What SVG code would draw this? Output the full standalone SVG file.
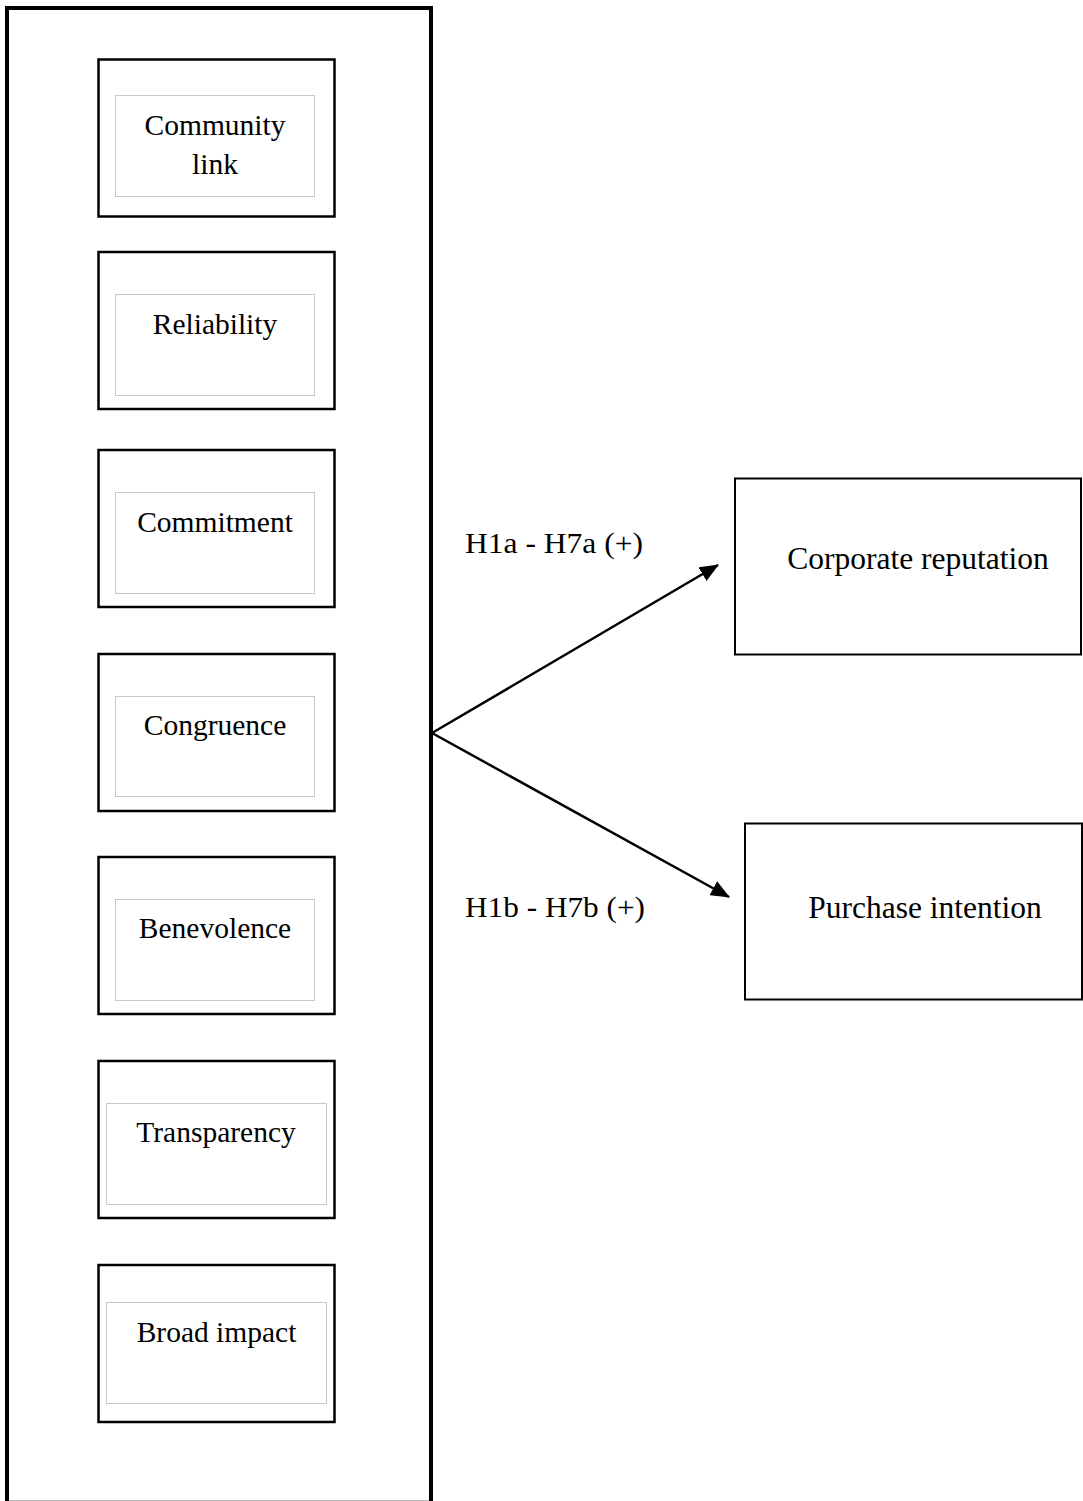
<svg xmlns="http://www.w3.org/2000/svg" width="1083" height="1501" viewBox="0 0 1083 1501">
<style>
.frame{fill:none;stroke:#000;stroke-width:4}
.outer{fill:#fff;stroke:#000;stroke-width:2.5}
.inner{fill:#fff;stroke:#c8c8c8;stroke-width:1}
.box{fill:#fff;stroke:#000;stroke-width:2}
.t{font-family:"Liberation Serif","Times New Roman",serif;font-size:29.5px;fill:#000;text-anchor:middle}
.tr{font-family:"Liberation Serif","Times New Roman",serif;font-size:31.5px;fill:#000;text-anchor:middle}
.lbl{font-family:"Liberation Serif","Times New Roman",serif;font-size:29px;fill:#000}
.conn{stroke:#000;stroke-width:2.5;fill:none}
</style>
<defs>
<marker id="ah" markerWidth="19" markerHeight="16" refX="18" refY="8" orient="auto" markerUnits="userSpaceOnUse">
<path d="M0,0 L19,8 L0,16 Z" fill="#000"/>
</marker>
</defs>
<rect width="1083" height="1501" fill="#fff"/>
<g id="frame">
<rect class="frame" x="7" y="8" width="424" height="1500"/>
<line x1="9" y1="1500.5" x2="429" y2="1500.5" stroke="#bbb" stroke-width="1"/>
</g>
<g id="n-community">
<rect class="outer" x="98.5" y="59.5" width="236" height="157"/>
<rect class="inner" x="115.5" y="95.5" width="199" height="101"/>
<text class="t" x="215" y="135">Community</text>
<text class="t" x="215" y="174">link</text>
</g>
<g id="n-reliability">
<rect class="outer" x="98.5" y="252" width="236" height="157"/>
<rect class="inner" x="115.5" y="294.5" width="199" height="101"/>
<text class="t" x="215" y="334">Reliability</text>
</g>
<g id="n-commitment">
<rect class="outer" x="98.5" y="450" width="236" height="157"/>
<rect class="inner" x="115.5" y="492.5" width="199" height="101"/>
<text class="t" x="215" y="532">Commitment</text>
</g>
<g id="n-congruence">
<rect class="outer" x="98.5" y="654" width="236" height="157"/>
<rect class="inner" x="115.5" y="696.5" width="199" height="100"/>
<text class="t" x="215" y="735">Congruence</text>
</g>
<g id="n-benevolence">
<rect class="outer" x="98.5" y="857" width="236" height="157"/>
<rect class="inner" x="115.5" y="899.5" width="199" height="101"/>
<text class="t" x="215" y="938">Benevolence</text>
</g>
<g id="n-transparency">
<rect class="outer" x="98.5" y="1061" width="236" height="157"/>
<rect class="inner" x="106.5" y="1103.5" width="220" height="101"/>
<text class="t" x="216" y="1142">Transparency</text>
</g>
<g id="n-broad">
<rect class="outer" x="98.5" y="1265" width="236" height="157"/>
<rect class="inner" x="106.5" y="1302.5" width="220" height="101"/>
<text class="t" x="216.5" y="1342">Broad impact</text>
</g>
<g id="n-reputation">
<rect class="box" x="735" y="478.5" width="346" height="176"/>
<text class="tr" x="918" y="569">Corporate reputation</text>
</g>
<g id="n-purchase">
<rect class="box" x="745" y="823.5" width="337" height="176"/>
<text class="tr" x="925" y="918">Purchase intention</text>
</g>
<g id="connectors">
<line class="conn" x1="432" y1="733" x2="718" y2="565" marker-end="url(#ah)"/>
<line class="conn" x1="432" y1="733" x2="729" y2="897" marker-end="url(#ah)"/>
<text class="lbl" x="465" y="553" textLength="178" lengthAdjust="spacingAndGlyphs">H1a - H7a (+)</text>
<text class="lbl" x="465" y="917" textLength="180" lengthAdjust="spacingAndGlyphs">H1b - H7b (+)</text>
</g>
</svg>
